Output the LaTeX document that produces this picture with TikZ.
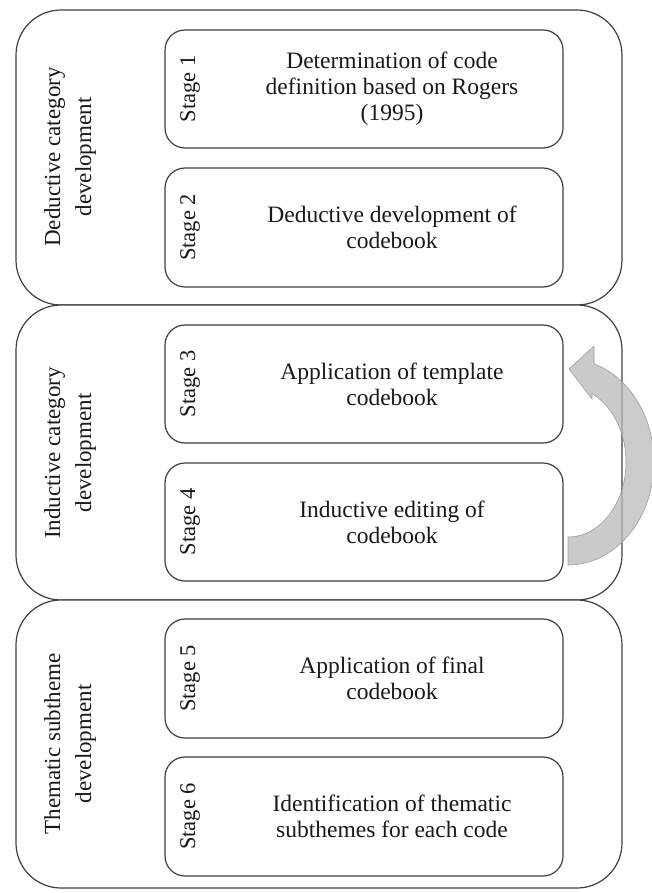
\documentclass[tikz,border=0pt]{standalone}
\usepackage{fontspec}
\setmainfont{Liberation Serif}
\begin{document}
\begin{tikzpicture}[x=1pt,y=-1pt,
  outerbox/.style={draw=black!75,line width=1.2pt,rounded corners=45pt,fill=white},
  stagebox/.style={draw=black!75,line width=1.2pt,rounded corners=20pt,fill=white},
  maintext/.style={align=center,font=\fontsize{23.5}{26}\selectfont,text=black!90},
  stagelbl/.style={rotate=90,font=\fontsize{22.5}{25}\selectfont,text=black!90},
  grouplbl/.style={rotate=90,align=center,font=\fontsize{23}{31}\selectfont,text=black!90}]
\useasboundingbox (0,0) rectangle (652,893);
% outer boxes
\draw[outerbox] (16,10) rectangle (622,305);
\draw[outerbox] (16,305) rectangle (622,600);
\draw[outerbox] (16,600) rectangle (622,888);
% group labels
\node[grouplbl] (g1) at (70,157) {Deductive category\\development};
\node[grouplbl] (g2) at (70,453) {Inductive category\\development};
\node[grouplbl] (g3) at (70,744) {Thematic subtheme\\development};
% stage boxes
\foreach \n/\t/\b in {1/30/148,2/168/287,3/325/443,4/463/581,5/619/738,6/757/876}{
  \draw[stagebox] (165,\t) rectangle (563,\b);
  \node[stagelbl] (s\n) at (190,{(\t+\b)/2}) {Stage \n};
}
\node[maintext] (t1) at (392,89) {Determination of code\\definition based on Rogers\\(1995)};
\node[maintext] (t2) at (392,227) {Deductive development of\\codebook};
\node[maintext] (t3) at (392,384) {Application of template\\codebook};
\node[maintext] (t4) at (392,522) {Inductive editing of\\codebook};
\node[maintext] (t5) at (392,678) {Application of final\\codebook};
\node[maintext] (t6) at (392,816) {Identification of thematic\\subthemes for each code};
% curved arrow
\fill[gray!55,fill opacity=0.75,draw=gray!75,line width=0.6pt]
  plot[domain=90:-72.4,samples=50] ({568+86*cos(\x)},{462+103*sin(\x)})
  -- (594,346) -- (569,369) -- (592,399)
  -- plot[domain=-65.6:90,samples=50] ({568+58*cos(\x)},{462+75*sin(\x)})
  -- cycle;
\end{tikzpicture}
\end{document}
